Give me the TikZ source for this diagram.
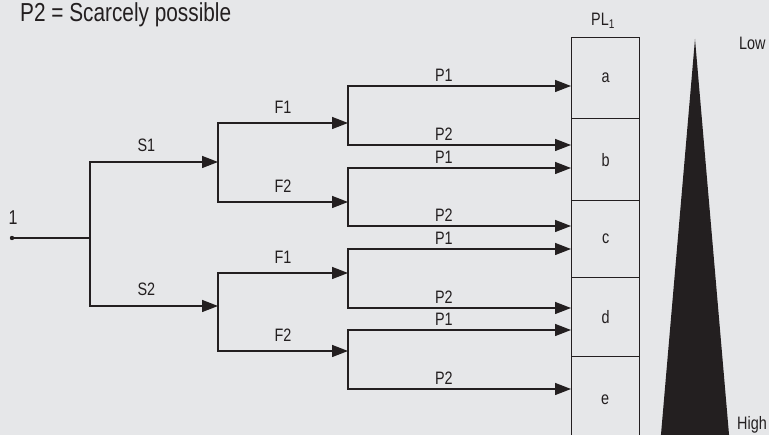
\documentclass[tikz,border=0pt]{standalone}
\usepackage{fontspec}
\setmainfont[FakeStretch=0.8]{Liberation Sans}
\usetikzlibrary{arrows.meta}
\definecolor{ink}{HTML}{231F20}
\definecolor{paper}{HTML}{E6E7E9}
\begin{document}
\begin{tikzpicture}[x=1pt,y=-1pt,
  line/.style={draw=ink,line width=1.4pt},
  arr/.style={line,-{Triangle[length=16pt,width=12pt]}},
  cell/.style={draw=ink,line width=1.4pt,minimum width=68pt,anchor=north west,
    inner sep=0pt,font=\fontsize{18}{18}\selectfont,text=ink},
  txt/.style={font=\fontsize{18}{18}\selectfont,text=ink,inner sep=0pt},
  plab/.style={txt,anchor=south,yshift=4pt,pos=0.715},
  flab/.style={txt,anchor=south,yshift=9pt,pos=0.75},
  slab/.style={txt,anchor=south,yshift=10pt,pos=0.72}]
\fill[paper] (0,0) rectangle (769,435);
\useasboundingbox (0,0) rectangle (769,435);
\clip (0,0) rectangle (769,435);

% heading
\node[txt,anchor=base west,font=\fontsize{26}{26}\selectfont] (title) at (20,22) {P2 = Scarcely possible};

% column of outcome cells
\node[txt,anchor=base] (pl) at (603,26) {PL\textsubscript{1}};
\node[cell,minimum height=81pt] (a) at (571,37) {a};
\node[cell,minimum height=82pt] (b) at (571,118) {b};
\node[cell,minimum height=77pt] (c) at (571,200) {c};
\node[cell,minimum height=79pt] (d) at (571,277) {d};
\node[cell,minimum height=90pt] (e) at (571,356) {};
\node[txt] (elab) at (605,400) {e};

% risk wedge
\fill[ink] (695,39) -- (730,446) -- (660,446) -- cycle;
\node[txt,anchor=base west] (low) at (739,50) {Low};
\node[txt,anchor=base west] (high) at (737,430) {High};

% start point
\fill[ink] (12,238) circle (2.2pt);
\coordinate (r) at (12,238);
\node[txt,font=\fontsize{20}{20}\selectfont,anchor=base] (one) at (13,225) {1};

% branch points
\coordinate (j0) at (90,238);
\coordinate (s1) at (218,162);
\coordinate (s2) at (218,306);
\coordinate (f11) at (348,123);
\coordinate (f12) at (348,202);
\coordinate (f21) at (348,273);
\coordinate (f22) at (348,351);
% arrow ends on the cell column
\coordinate (e1) at (571,86);
\coordinate (e2) at (571,145);
\coordinate (e3) at (571,168);
\coordinate (e4) at (571,226);
\coordinate (e5) at (571,249);
\coordinate (e6) at (571,308);
\coordinate (e7) at (571,330);
\coordinate (e8) at (571,389);

\draw[line] (r) -- (j0);
\draw[arr] (j0) |- (s1) node[slab] {S1};
\draw[arr] (j0) |- (s2) node[slab] {S2};

\draw[arr] (s1) |- (f11) node[flab] {F1};
\draw[arr] (s1) |- (f12) node[flab] {F2};
\draw[arr] (s2) |- (f21) node[flab] {F1};
\draw[arr] (s2) |- (f22) node[flab] {F2};

\draw[arr] (f11) |- (e1) node[plab] {P1};
\draw[arr] (f11) |- (e2) node[plab] {P2};
\draw[arr] (f12) |- (e3) node[plab] {P1};
\draw[arr] (f12) |- (e4) node[plab] {P2};
\draw[arr] (f21) |- (e5) node[plab] {P1};
\draw[arr] (f21) |- (e6) node[plab] {P2};
\draw[arr] (f22) |- (e7) node[plab] {P1};
\draw[arr] (f22) |- (e8) node[plab] {P2};
\end{tikzpicture}
\end{document}
